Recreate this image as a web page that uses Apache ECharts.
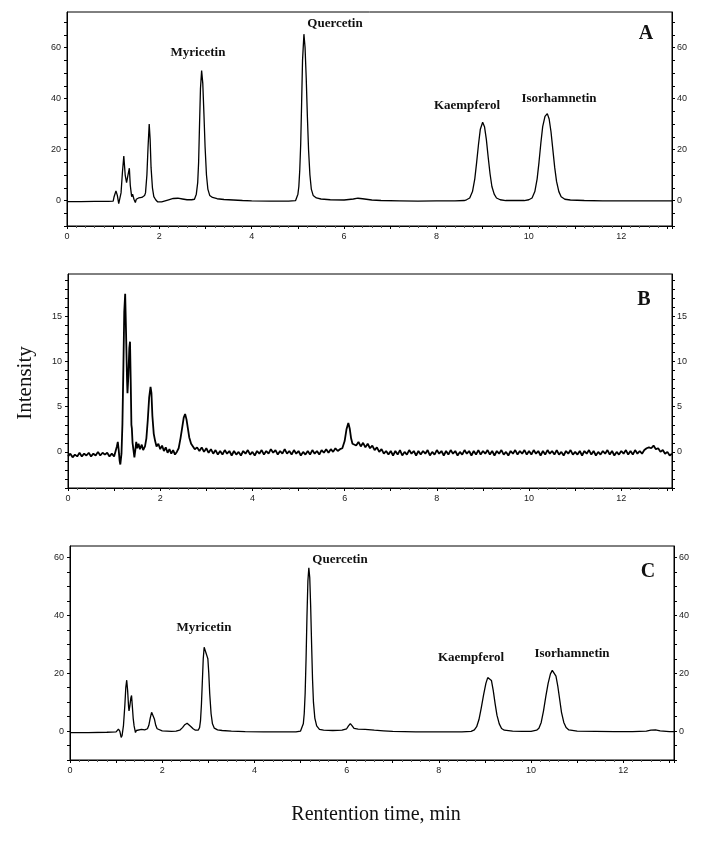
<!DOCTYPE html>
<html>
<head>
<meta charset="utf-8">
<script src="https://cdn.jsdelivr.net/npm/echarts@6/dist/echarts.min.js"></script>
<style>
html,body{margin:0;padding:0;background:#fff;}
#chart{width:709px;height:841px;}
</style>
</head>
<body>
<div id="chart"></div>
<script>
// ---- Data (retention time in min, intensity) ----
const xTicks = [0, 2, 4, 6, 8, 10, 12];
const yTicksAC = [0, 20, 40, 60];
const yTicksB = [0, 5, 10, 15];
const peakNames = ['Myricetin', 'Quercetin', 'Kaempferol', 'Isorhamnetin'];
const panelLetters = ['A', 'B', 'C'];

const traceA = [
  [0,-0.4],[0.3,-0.4],[0.6,-0.3],[0.9,-0.3],[1.0,-0.2],
  [1.02,1.5],[1.06,3.8],[1.09,2],[1.12,-1.2],[1.14,-1.0],
  [1.17,3],[1.20,11],[1.23,17.5],[1.26,10],[1.29,7],[1.32,10],[1.35,12.7],[1.37,6],[1.40,1.5],[1.42,2.5],[1.45,0.5],[1.48,-0.8],[1.5,0.5],[1.55,1.0],[1.62,1.2],[1.68,2],
  [1.70,3],[1.73,10],[1.755,21],[1.78,30],[1.80,24],[1.82,13],[1.85,5],[1.88,1.5],[1.92,0.3],[1.96,-0.5],[2.0,-0.8],[2.05,-0.5],
  [2.2,0.3],[2.3,0.8],[2.4,0.9],[2.5,0.6],[2.6,0.3],[2.7,0.3],
  [2.76,0.5],[2.80,2.5],[2.83,7],[2.85,15],[2.87,30],[2.89,44],[2.915,51],[2.94,46],[2.965,34],[2.99,21],[3.02,10],[3.05,4.5],[3.09,2],[3.15,1.2],[3.25,0.7],[3.4,0.4],[3.6,0.2],[3.8,0],[4.0,-0.1],[4.4,-0.2],[4.8,-0.2],[4.95,0],
  [4.97,0.5],[5.0,2.5],[5.02,5.5],[5.04,12],[5.06,22],[5.08,38],[5.10,55],[5.13,65.3],[5.155,60],[5.18,48],[5.205,33],[5.23,20],[5.26,10],[5.29,4.5],[5.33,2],[5.4,1],[5.5,0.6],[5.7,0.3],[6.0,0.2],[6.2,0.6],[6.3,0.9],[6.4,0.7],[6.6,0.2],[6.8,0],[7.2,-0.1],[7.6,-0.2],[8.0,-0.1],[8.4,-0.1],[8.6,0],
  [8.65,0.3],[8.72,1],[8.78,3.5],[8.83,8.5],[8.87,15],[8.91,22],[8.95,28],[9.0,30.7],[9.04,29],[9.08,24],[9.12,17],[9.16,10.5],[9.2,5.5],[9.25,2.5],[9.3,1],[9.38,0.3],[9.5,0],[9.7,0],[9.9,0],[10.0,0.3],
  [10.07,1],[10.13,3.5],[10.18,8.5],[10.22,15],[10.26,22.5],[10.3,29],[10.35,33],[10.40,34.1],[10.44,32],[10.48,27],[10.52,20],[10.56,13],[10.6,7.5],[10.65,3.5],[10.7,1.5],[10.78,0.5],[10.9,0.2],[11.2,0],[11.6,-0.1],[12.0,-0.1],[12.5,-0.1],[13.1,-0.1]
];

const traceB = [
  [0,-0.5],[0.05,-0.2],[0.1,-0.6],[0.15,-0.3],[0.2,-0.5],[0.25,-0.1],[0.3,-0.5],[0.35,-0.2],[0.4,-0.4],[0.45,-0.1],[0.5,-0.5],[0.55,-0.2],[0.6,-0.4],[0.65,0.0],[0.7,-0.4],[0.75,-0.1],[0.8,-0.3],[0.85,-0.1],[0.9,-0.5],[0.95,-0.2],[1.0,-0.5],[1.03,-0.3],
  [1.06,0.6],[1.08,1.1],[1.1,0.2],[1.12,-1.0],[1.135,-1.4],[1.16,-0.2],[1.18,3],[1.2,9],[1.22,15.5],[1.24,17.5],[1.26,13],[1.28,8],[1.29,6.5],[1.31,8.5],[1.33,11.5],[1.345,12.2],[1.36,8],[1.375,3],[1.385,2.6],[1.4,1.0],[1.42,0.2],[1.44,-0.6],[1.46,0.2],[1.48,1.1],[1.5,0.4],[1.53,0.9],[1.56,0.3],[1.6,0.8],[1.63,0.2],[1.67,0.6],
  [1.7,1.5],[1.73,3.5],[1.76,6],[1.79,7.2],[1.81,6.5],[1.83,4],[1.86,2],[1.89,1.2],[1.92,0.6],[1.96,0.9],[2.0,0.3],[2.04,0.7],[2.08,0.1],[2.12,0.5],[2.16,-0.1],[2.2,0.3],[2.24,-0.2],[2.28,0.2],[2.32,-0.3],[2.36,0.0],
  [2.4,0.4],[2.44,1.5],[2.48,2.8],[2.51,3.8],[2.54,4.2],[2.57,3.6],[2.6,2.6],[2.63,1.6],[2.67,0.9],[2.71,0.7],[2.75,0.3],[2.8,0.5],
  [2.85,0.1],[2.90,0.5],[2.95,0.0],[3.00,0.4],[3.05,-0.1],[3.10,0.3],[3.15,-0.2],[3.20,0.2],[3.25,-0.3],[3.30,0.1],[3.35,-0.3],[3.40,0.2],[3.45,-0.2],[3.50,0.1],[3.55,-0.4],[3.60,0.1],[3.65,-0.3],[3.70,0.0],[3.75,-0.4],[3.80,0.1],[3.85,-0.2],[3.90,0.2],[3.95,-0.3],[4.00,0.0],[4.05,-0.4],[4.10,0.1],[4.15,-0.2],[4.20,0.2],[4.25,-0.3],[4.30,0.1],[4.35,-0.2],[4.40,0.3],[4.45,-0.1],[4.50,0.2],[4.55,-0.3],[4.60,0.1],[4.65,-0.2],[4.70,0.3],[4.75,-0.2],[4.80,0.1],[4.85,-0.3],[4.90,0.2],[4.95,-0.2],[5.00,0.1],[5.05,-0.4],[5.10,0.0],[5.15,-0.3],[5.20,0.1],[5.25,-0.3],[5.30,0.2],[5.35,-0.2],[5.40,0.1],[5.45,-0.3],[5.50,0.2],[5.55,-0.1],[5.60,0.3],[5.65,-0.1],[5.70,0.3],[5.75,0.0],[5.80,0.4],[5.85,0.1],[5.90,0.3],
  [5.95,0.4],[6.0,1.2],[6.04,2.5],[6.08,3.2],[6.11,2.6],[6.14,1.5],[6.17,0.9],
  [6.20,1.0],[6.25,0.7],[6.30,1.1],[6.35,0.6],[6.40,1.0],[6.45,0.5],[6.50,0.9],[6.55,0.4],[6.60,0.7],[6.65,0.2],[6.70,0.5],[6.75,0.0],[6.80,0.3],[6.85,-0.2],[6.90,0.1],[6.95,-0.3],[7.00,0.1],
  [7.05,-0.4],[7.10,0.1],[7.15,-0.3],[7.20,0.2],[7.25,-0.4],[7.30,0.0],[7.35,-0.3],[7.40,0.2],[7.45,-0.2],[7.50,0.1],[7.55,-0.4],[7.60,0.1],[7.65,-0.3],[7.70,0.1],[7.75,-0.2],[7.80,0.2],[7.85,-0.4],[7.90,0.0],[7.95,-0.3],[8.00,0.2],
  [8.05,-0.2],[8.10,0.1],[8.15,-0.4],[8.20,0.1],[8.25,-0.3],[8.30,0.2],[8.35,-0.2],[8.40,0.1],[8.45,-0.4],[8.50,0.0],[8.55,-0.3],[8.60,0.2],[8.65,-0.2],[8.70,0.1],[8.75,-0.4],[8.80,0.1],[8.85,-0.3],[8.90,0.2],[8.95,-0.3],[9.00,0.1],
  [9.05,-0.2],[9.10,0.2],[9.15,-0.3],[9.20,0.1],[9.25,-0.4],[9.30,0.1],[9.35,-0.2],[9.40,0.2],[9.45,-0.3],[9.50,0.0],[9.55,-0.4],[9.60,0.1],[9.65,-0.2],[9.70,0.2],[9.75,-0.3],[9.80,0.1],[9.85,-0.2],[9.90,0.2],[9.95,-0.3],[10.00,0.1],
  [10.05,-0.3],[10.10,0.2],[10.15,-0.2],[10.20,0.1],[10.25,-0.4],[10.30,0.1],[10.35,-0.3],[10.40,0.2],[10.45,-0.2],[10.50,0.1],[10.55,-0.3],[10.60,0.2],[10.65,-0.3],[10.70,0.0],[10.75,-0.4],[10.80,0.1],[10.85,-0.2],[10.90,0.2],[10.95,-0.3],[11.00,0.0],
  [11.05,-0.3],[11.10,0.1],[11.15,-0.4],[11.20,0.1],[11.25,-0.2],[11.30,0.2],[11.35,-0.3],[11.40,0.1],[11.45,-0.4],[11.50,0.0],[11.55,-0.3],[11.60,0.1],[11.65,-0.2],[11.70,0.2],[11.75,-0.3],[11.80,0.1],[11.85,-0.4],[11.90,0.0],[11.95,-0.3],[12.00,0.1],
  [12.05,-0.2],[12.10,0.2],[12.15,-0.3],[12.20,0.1],[12.25,-0.3],[12.30,0.2],[12.35,-0.2],[12.40,0.1],[12.45,-0.2],
  [12.5,0.2],[12.55,0.4],[12.6,0.5],[12.65,0.4],[12.7,0.7],[12.75,0.3],[12.8,0.4],[12.85,0.0],[12.9,0.2],[12.95,-0.2],[13.0,0.0],[13.05,-0.4],[13.1,-0.2]
];

const traceC = [
  [0,-0.5],[0.4,-0.5],[0.8,-0.4],[1.0,-0.3],[1.03,0.2],[1.05,0.7],[1.08,0],[1.11,-2.2],[1.13,-1.5],
  [1.16,2],[1.19,9],[1.21,15],[1.23,17.6],[1.25,14],[1.27,8.5],[1.28,7],[1.30,9],[1.32,11.5],[1.335,12.3],[1.35,9],[1.37,4.5],[1.39,1.8],[1.40,1.3],[1.42,-0.5],[1.44,0.2],[1.48,0.7],[1.55,0.6],[1.62,0.4],[1.68,0.8],
  [1.71,2],[1.74,4.5],[1.77,6.5],[1.79,7],[1.81,6.3],[1.83,4.2],[1.86,2],[1.89,0.8],[1.93,0.3],[2.0,0.1],[2.1,0],[2.2,-0.1],[2.3,0],
  [2.38,0.3],[2.44,1.2],[2.49,2.2],[2.54,2.7],[2.58,2.3],[2.62,1.6],[2.67,0.8],[2.72,0.3],[2.78,0.3],
  [2.81,1.2],[2.83,3.5],[2.85,9],[2.87,17],[2.89,25],[2.91,29],[2.93,28],[2.95,27],[2.97,26],[2.99,25],[3.01,20],[3.03,13],[3.06,6],[3.09,2.5],[3.13,1.0],[3.2,0.4],[3.3,0.2],[3.5,0],[3.8,-0.2],[4.2,-0.3],[4.6,-0.3],[4.9,-0.3],[5.0,0],
  [5.03,0.5],[5.06,2.5],[5.08,6],[5.10,13],[5.12,25],[5.14,40],[5.16,52],[5.18,56.5],[5.20,53],[5.22,43],[5.24,30],[5.26,18],[5.28,10],[5.31,4.5],[5.35,1.8],[5.41,0.6],[5.5,0.3],[5.7,0.2],[5.9,0.3],
  [6.0,0.8],[6.04,1.8],[6.08,2.6],[6.12,1.8],[6.16,0.9],[6.25,0.7],[6.4,0.6],[6.6,0.3],[6.8,0.1],[7.0,-0.1],[7.5,-0.3],[8.0,-0.3],[8.5,-0.3],[8.7,-0.1],
  [8.77,0.4],[8.82,1.5],[8.87,4],[8.92,8],[8.97,12.5],[9.02,16.5],[9.06,18.5],[9.10,18.9],[9.14,17.5],[9.18,14],[9.22,9.5],[9.26,5.5],[9.31,2.5],[9.36,0.9],[9.42,0.3],[9.6,0],[9.8,-0.1],[10.0,-0.1],[10.12,0.3],
  [10.17,1],[10.22,3],[10.27,7],[10.32,12],[10.37,16.5],[10.42,19.8],[10.46,21],[10.5,21],[10.54,19],[10.58,15.5],[10.62,11],[10.66,6.5],[10.71,3],[10.76,1.2],[10.82,0.4],[11.0,0],[11.4,-0.1],[11.8,-0.2],[12.2,-0.2],[12.5,0],[12.6,0.3],[12.7,0.4],[12.8,0.1],[13.0,-0.2],[13.1,-0.2]
];

// ---- Layout / styles ----
const grids = [
  {left: 67, top: 12, width: 605, height: 214},
  {left: 68, top: 274, width: 604, height: 214},
  {left: 70, top: 546, width: 604, height: 214}
];
const yRanges = [
  {min: -10, max: 74, interval: 5, labels: yTicksAC},
  {min: -4, max: 19.7, interval: 1, labels: yTicksB},
  {min: -10, max: 64, interval: 5, labels: yTicksAC}
];
const tickFont = {fontFamily: 'Liberation Sans, Arial, sans-serif', fontSize: 9, color: '#222'};

const chart = echarts.init(document.getElementById('chart'), null, {renderer: 'canvas'});

const xAxes = grids.map((g, i) => ({
  type: 'value', gridIndex: i, min: 0, max: 13.1, interval: 1,
  axisLine: {show: true, onZero: false, lineStyle: {color: '#000', width: 1}},
  axisTick: {show: true, length: 3, lineStyle: {color: '#000'}},
  minorTick: {show: true, splitNumber: 5, length: 2, lineStyle: {color: '#555'}},
  splitLine: {show: false},
  axisLabel: Object.assign({
    margin: 6, showMaxLabel: false,
    formatter: v => (xTicks.indexOf(Math.round(v * 1000) / 1000) >= 0 ? String(v) : '')
  }, tickFont)
}));

const yAxes = [];
yRanges.forEach((r, i) => {
  ['left', 'right'].forEach(pos => {
    yAxes.push({
      type: 'value', gridIndex: i, position: pos,
      min: r.min, max: r.max, interval: r.interval,
      axisLine: {show: true, onZero: false, lineStyle: {color: '#000', width: 1}},
      axisTick: {show: true, length: 3, lineStyle: {color: '#000'}},
      splitLine: {show: false},
      axisLabel: Object.assign({
        margin: pos === 'left' ? 6 : 5, showMaxLabel: false,
        formatter: v => (r.labels.indexOf(Math.round(v * 1000) / 1000) >= 0 ? String(v) : '')
      }, tickFont)
    });
  });
});

const traces = [traceA, traceB, traceC];
const series = traces.map((d, i) => ({
  type: 'line', xAxisIndex: i, yAxisIndex: i * 2, data: d,
  showSymbol: false, symbol: 'none', smooth: false,
  lineStyle: {color: '#000', width: i === 1 ? 1.8 : 1.3},
  animation: false, silent: true
}));

const labFont = 'bold 13px "Liberation Serif", "Times New Roman", serif';
const letterFont = 'bold 20px "Liberation Serif", "Times New Roman", serif';
function txt(t, x, y, font, rot) {
  return {type: 'text', x: x, y: y, rotation: rot || 0,
    style: {text: t, font: font, fill: '#111', textAlign: 'center', textVerticalAlign: 'middle'}};
}
const graphics = [
  txt(peakNames[0], 198, 53, labFont), txt(peakNames[1], 335, 24, labFont),
  txt(peakNames[2], 467, 106, labFont), txt(peakNames[3], 559, 99, labFont),
  txt(panelLetters[0], 646, 34, letterFont),
  txt(panelLetters[1], 644, 300, letterFont),
  txt(peakNames[0], 204, 628, labFont), txt(peakNames[1], 340, 560, labFont),
  txt(peakNames[2], 471, 658, labFont), txt(peakNames[3], 572, 654, labFont),
  txt(panelLetters[2], 648, 572, letterFont),
  txt('Intensity', 25, 383, '21px "Liberation Serif", "Times New Roman", serif', Math.PI / 2),
  txt('Rentention time, min', 376, 815, '20px "Liberation Serif", "Times New Roman", serif')
];

chart.setOption({
  backgroundColor: '#fff',
  animation: false,
  grid: grids.map(g => Object.assign({show: true, borderColor: '#000', borderWidth: 1, backgroundColor: 'transparent', containLabel: false, outerBoundsMode: 'none'}, g)),
  xAxis: xAxes,
  yAxis: yAxes,
  series: series,
  graphic: graphics
});
</script>
</body>
</html>
